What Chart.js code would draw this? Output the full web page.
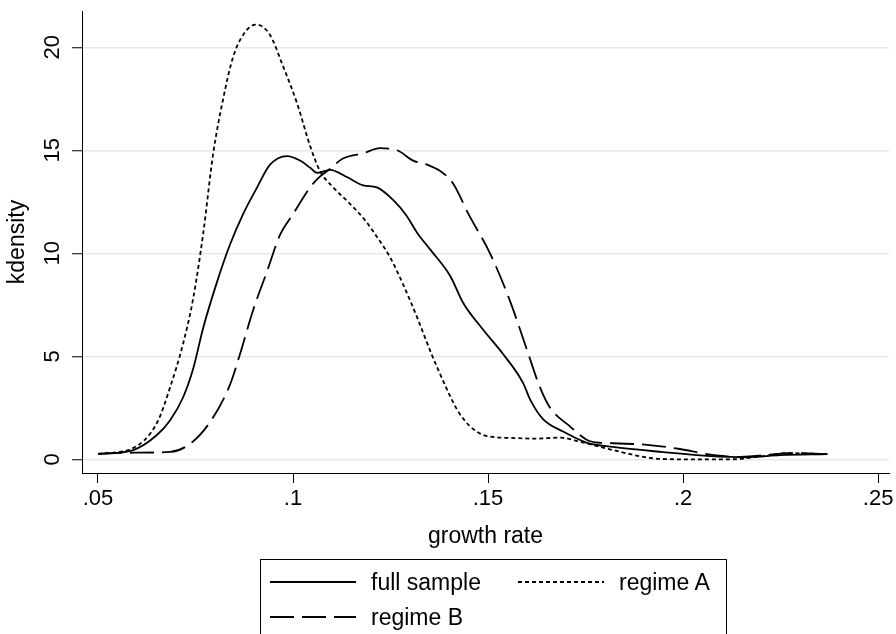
<!DOCTYPE html>
<html><head><meta charset="utf-8">
<script src="https://cdn.jsdelivr.net/npm/chart.js@4/dist/chart.umd.min.js"></script>
<style>
html,body{margin:0;padding:0;background:#fff;}
#wrap{position:relative;width:896px;height:634px;overflow:hidden;}
#c{position:absolute;left:0;top:0;}
#legend{position:absolute;left:260px;top:559px;width:467px;height:110px;border:1.5px solid #000;box-sizing:border-box;font-family:"Liberation Sans",Arial,sans-serif;font-size:23px;color:#000;}
.item{position:absolute;display:flex;align-items:center;height:30px;}
.item span{margin-left:15px;white-space:nowrap;}
</style></head><body>
<div id="wrap"><canvas id="c" width="896" height="634"></canvas><div id="legend"></div></div>
<script>
const seriesNames = ['full sample', 'regime A', 'regime B'];
const xTitle = 'growth rate';
const yTitle = 'kdensity';
const xTicks = [0.05, 0.10, 0.15, 0.20, 0.25];
const xTickLabels = ['.05', '.1', '.15', '.2', '.25'];
const yTicks = [0, 5, 10, 15, 20];
const yTickLabels = ['0', '5', '10', '15', '20'];

const fullX = [0.05, 0.059, 0.0651, 0.0685, 0.0718, 0.0744, 0.077, 0.0805, 0.0838, 0.0872, 0.0908, 0.0941, 0.0985, 0.1018, 0.1044, 0.1062, 0.1095, 0.1138, 0.118, 0.1215, 0.1256, 0.1292, 0.1318, 0.1351, 0.1403, 0.1436, 0.1487, 0.1539, 0.159, 0.1608, 0.1641, 0.1692, 0.1754, 0.182, 0.1949, 0.2062, 0.2164, 0.2249, 0.237];
const fullY = [0.26, 0.45, 1.18, 1.9, 3.0, 4.4, 6.4, 8.6, 10.4, 11.9, 13.2, 14.3, 14.72, 14.5, 14.15, 13.9, 14.05, 13.7, 13.3, 13.2, 12.6, 11.8, 11.0, 10.2, 8.9, 7.6, 6.3, 5.1, 3.7, 2.9, 1.95, 1.35, 0.8, 0.6, 0.35, 0.17, 0.1, 0.2, 0.25];

const regimeAX = [0.05, 0.059, 0.0651, 0.0685, 0.0718, 0.0744, 0.077, 0.0795, 0.0821, 0.0846, 0.0872, 0.0905, 0.0941, 0.0974, 0.101, 0.1044, 0.1069, 0.1103, 0.1146, 0.1185, 0.1215, 0.1249, 0.1282, 0.1318, 0.1351, 0.1385, 0.1421, 0.1454, 0.1497, 0.1574, 0.162, 0.1685, 0.1736, 0.182, 0.1923, 0.2, 0.212, 0.2205, 0.2267, 0.237];
const regimeAY = [0.26, 0.55, 1.76, 3.5, 5.6, 7.8, 11.0, 14.8, 17.5, 19.5, 20.6, 21.1, 20.6, 19.1, 17.3, 15.2, 14.0, 13.2, 12.4, 11.6, 10.8, 9.8, 8.5, 6.9, 5.3, 3.8, 2.4, 1.6, 1.13, 1.03, 1.0, 1.05, 0.85, 0.45, 0.05, 0.0, 0.0, 0.15, 0.3, 0.25];

const regimeBX = [0.05, 0.059, 0.0685, 0.0736, 0.0787, 0.0838, 0.0864, 0.0897, 0.0933, 0.0967, 0.1, 0.1044, 0.1062, 0.1095, 0.1128, 0.118, 0.1223, 0.1267, 0.1308, 0.1344, 0.1377, 0.141, 0.145, 0.1505, 0.1556, 0.16, 0.1633, 0.1659, 0.171, 0.1754, 0.1787, 0.182, 0.1908, 0.1992, 0.2062, 0.2138, 0.2205, 0.2274, 0.237];
const regimeBY = [0.26, 0.32, 0.36, 0.75, 1.8, 3.6, 5.1, 7.2, 9.1, 10.9, 11.9, 13.2, 13.6, 14.1, 14.6, 14.85, 15.1, 15.0, 14.5, 14.3, 14.0, 13.4, 11.9, 10.0, 7.7, 5.3, 3.5, 2.5, 1.6, 0.94, 0.8, 0.78, 0.7, 0.5, 0.25, 0.12, 0.2, 0.3, 0.25];

const zip = (xs, ys) => xs.map((x, i) => ({x: x, y: ys[i]}));
const FONT = '"Liberation Sans", Arial, sans-serif';

const htmlLegend = {
  id: 'htmlLegend',
  afterUpdate(chart) {
    const box = document.getElementById('legend');
    box.innerHTML = '';
    const items = Chart.defaults.plugins.legend.labels.generateLabels(chart);
    items.forEach((it, i) => {
      const col = i % 2, row = Math.floor(i / 2);
      const d = document.createElement('div');
      d.className = 'item';
      d.style.left = (9 + col * 248) + 'px';
      d.style.top = (7 + row * 35) + 'px';
      const cv = document.createElement('canvas');
      cv.width = 86; cv.height = 6;
      const g = cv.getContext('2d');
      g.strokeStyle = it.strokeStyle;
      g.lineWidth = it.lineWidth;
      g.setLineDash(it.lineDash || []);
      g.beginPath(); g.moveTo(0, 3); g.lineTo(86, 3); g.stroke();
      const sp = document.createElement('span');
      sp.textContent = it.text;
      d.appendChild(cv); d.appendChild(sp);
      box.appendChild(d);
    });
  }
};

const common = {fill: false, pointRadius: 0, borderColor: '#000', backgroundColor: '#000', borderWidth: 1.8, cubicInterpolationMode: 'monotone'};

new Chart(document.getElementById('c'), {
  type: 'line',
  data: {
    datasets: [
      Object.assign({label: seriesNames[0], data: zip(fullX, fullY), borderDash: []}, common),
      Object.assign({label: seriesNames[1], data: zip(regimeAX, regimeAY), borderDash: [4, 3]}, common),
      Object.assign({label: seriesNames[2], data: zip(regimeBX, regimeBY), borderDash: [24, 8]}, common)
    ]
  },
  plugins: [htmlLegend],
  options: {
    responsive: false, animation: false, devicePixelRatio: 1,
    layout: {padding: {left: 0, right: 7, top: 11, bottom: 78}},
    plugins: {legend: {display: false}, tooltip: {enabled: false}},
    scales: {
      x: {
        type: 'linear', min: 0.0459, max: 0.2528,
        afterBuildTicks: s => { s.ticks = xTicks.map(v => ({value: v})); },
        afterFit: s => { s.height = 83; s.paddingLeft = 0; s.paddingRight = 0; },
        ticks: {callback: (v, i) => xTickLabels[i], font: {family: FONT, size: 22}, color: '#000', padding: 3, maxRotation: 0, autoSkip: false},
        grid: {drawOnChartArea: false, drawTicks: true, tickLength: 10, tickColor: '#000', tickWidth: 1},
        border: {display: true, color: '#000', width: 1},
        title: {display: true, text: xTitle, font: {family: FONT, size: 23}, color: '#000', padding: {top: 6, bottom: 6}}
      },
      y: {
        type: 'linear', min: -0.665, max: 21.76,
        afterBuildTicks: s => { s.ticks = yTicks.map(v => ({value: v})); },
        afterFit: s => { s.width = 82; s.paddingTop = 0; s.paddingBottom = 0; },
        ticks: {callback: (v, i) => yTickLabels[i], minRotation: 90, maxRotation: 90, crossAlign: 'center', padding: 7, font: {family: FONT, size: 22, lineHeight: 1}, color: '#000', autoSkip: false},
        grid: {color: '#e8e8e8', lineWidth: 1.5, tickColor: '#000', tickLength: 10, tickWidth: 1},
        border: {display: true, color: '#000', width: 1},
        title: {display: true, text: yTitle, font: {family: FONT, size: 23}, color: '#000', padding: {top: 4, bottom: 8}}
      }
    }
  }
});
</script>
</body></html>
